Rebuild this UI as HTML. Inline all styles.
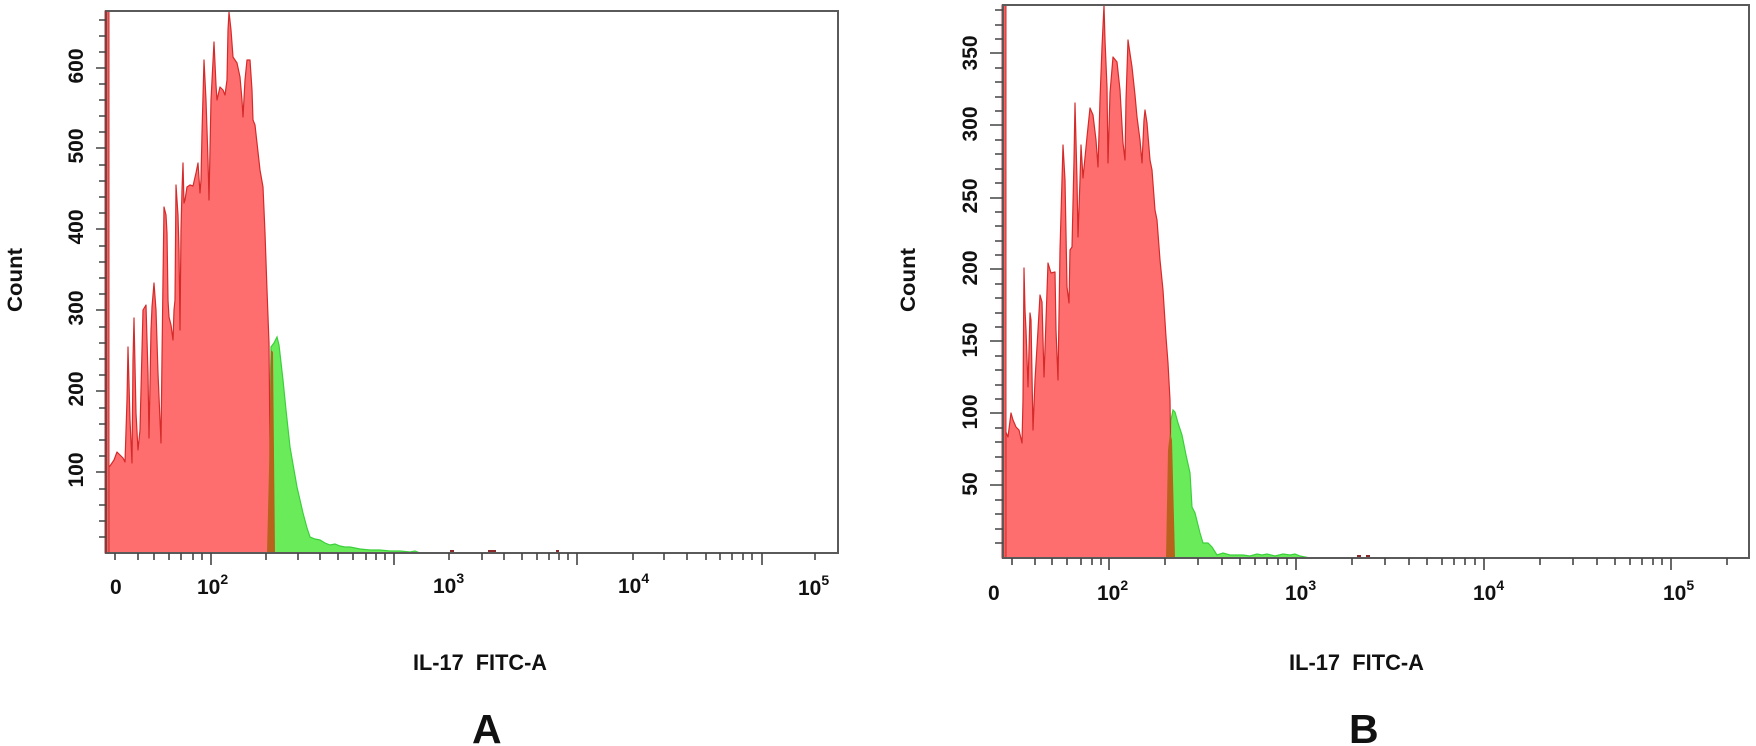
<!DOCTYPE html>
<html><head><meta charset="utf-8"><style>
html,body{margin:0;padding:0;background:#fff;}
svg{display:block;}
text{font-family:"Liberation Sans",Arial,sans-serif;font-weight:bold;fill:#111;}
</style></head><body>
<svg width="1756" height="746" viewBox="0 0 1756 746" xmlns="http://www.w3.org/2000/svg">
<rect width="1756" height="746" fill="#fff"/>

<!-- ============ PANEL A ============ -->
<!-- green -->
<path d="M268,553 L269,450 L271,347 L274,343 L277,337 L279,345 L283,380 L286,410 L290,447 L294,470 L297,487 L300,500 L303,513 L307,528 L310,537 L315,539 L320,540 L325,543 L330,545 L335,544 L340,546 L345,547 L350,547 L355,548 L360,549 L370,550 L380,550 L390,551 L400,551 L410,552 L415,551 L420,553 Z" fill="#6aec5a" stroke="#3ccf3c" stroke-width="1.2"/>
<!-- red -->
<path d="M106,553 L106,470 L110,466 L114,460 L117,452 L120,455 L123,458 L125,462 L127,400 L128,347 L130,420 L132,463 L133,360 L134,318 L136,413 L138,450 L140,430 L142,350 L143,310 L146,305 L147,340 L148,373 L149,438 L151,330 L152,307 L154,283 L156,310 L158,373 L160,420 L161,443 L162,357 L163,280 L164,207 L166,215 L167,233 L168,300 L169,317 L171,325 L173,340 L174,310 L175,300 L176,185 L178,215 L179,250 L180,330 L181,230 L182,190 L183,163 L184,203 L185,200 L187,187 L190,185 L193,186 L196,173 L198,163 L200,193 L201,180 L202,133 L204,60 L206,100 L208,160 L209,200 L210,150 L211,100 L214,42 L216,85 L217,100 L220,87 L223,90 L225,95 L227,80 L228,30 L229,12 L231,30 L233,57 L237,63 L240,77 L242,100 L243,117 L245,80 L247,60 L250,60 L252,90 L253,120 L255,125 L257,143 L260,170 L263,187 L265,233 L267,290 L269,343 L270,450 L271,553 Z" fill="#ff6e6e" stroke="#d42a2a" stroke-width="1.2" stroke-linejoin="round"/>
<!-- overlap -->
<path d="M267,553 L269,470 L271,350 L273,352 L275,553 Z" fill="#b8621e"/>
<!-- tail dots -->
<rect x="450" y="550" width="4" height="2" fill="#8b2a2a"/>
<rect x="488" y="550" width="8" height="2" fill="#8b2a2a"/>
<rect x="556" y="550" width="3" height="2" fill="#8b2a2a"/>
<!-- left red bar -->
<rect x="105" y="11" width="4" height="542" fill="#ff5c5c" stroke="#c03030" stroke-width="1"/>
<!-- frame -->
<path d="M106,11 L838,11 L838,553 L106,553 Z" fill="none" stroke="#5a5a5a" stroke-width="2"/>
<path d="M106,11 L106,553" stroke="#8a3030" stroke-width="1"/>

<!-- A y ticks -->
<g stroke="#444" stroke-width="1.6">
<path d="M99,537H106M99,521H106M99,505H106M99,489H106M99,456H106M99,440H106M99,424H106M99,408H106M99,375H106M99,359H106M99,343H106M99,327H106M99,294H106M99,278H106M99,262H106M99,246H106M99,213H106M99,197H106M99,181H106M99,165H106M99,132H106M99,116H106M99,100H106M99,84H106M99,52H106M99,36H106M99,20H106"/>
<path d="M96,472H106M96,391H106M96,310H106M96,229H106M96,148H106M96,68H106"/>
</g>
<g font-size="21">
<text x="83" y="470" transform="rotate(-90 83 470)" text-anchor="middle">100</text>
<text x="83" y="389" transform="rotate(-90 83 389)" text-anchor="middle">200</text>
<text x="83" y="308" transform="rotate(-90 83 308)" text-anchor="middle">300</text>
<text x="83" y="227" transform="rotate(-90 83 227)" text-anchor="middle">400</text>
<text x="83" y="146" transform="rotate(-90 83 146)" text-anchor="middle">500</text>
<text x="83" y="66" transform="rotate(-90 83 66)" text-anchor="middle">600</text>
<text x="22" y="280" transform="rotate(-90 22 280)" text-anchor="middle" textLength="64" lengthAdjust="spacingAndGlyphs">Count</text>
</g>

<!-- A x ticks -->
<g stroke="#444" stroke-width="1.6">
<path d="M115,553V560M138,553V560M154,553V560M169,553V560M181,553V560M193,553V560M202,553V560M266,553V560M298,553V560M320,553V560M338,553V560M353,553V560M366,553V560M376,553V560M385,553V560M449,553V560M482,553V560M504,553V560M522,553V560M537,553V560M549,553V560M559,553V560M568,553V560M633,553V560M664,553V560M687,553V560M706,553V560M720,553V560M732,553V560M743,553V560M752,553V560M815,553V560"/>
<path d="M211,553V565M394,553V565M577,553V565M762,553V565"/>
</g>
<g font-size="21">
<text x="110" y="594">0</text>
<text x="197" y="594">10<tspan font-size="14" dy="-10">2</tspan></text>
<text x="433" y="593">10<tspan font-size="14" dy="-10">3</tspan></text>
<text x="618" y="593">10<tspan font-size="14" dy="-10">4</tspan></text>
<text x="798" y="595">10<tspan font-size="14" dy="-10">5</tspan></text>
</g>
<text x="413" y="670" font-size="22" textLength="134" lengthAdjust="spacingAndGlyphs" xml:space="preserve">IL-17  FITC-A</text>
<text x="472" y="743" font-size="41">A</text>

<!-- ============ PANEL B ============ -->
<path d="M1168,558 L1169,470 L1171,420 L1173,410 L1175,412 L1178,423 L1182,435 L1186,455 L1190,473 L1192,507 L1195,513 L1198,525 L1200,533 L1203,543 L1208,543 L1212,547 L1217,555 L1223,553 L1230,555 L1243,555 L1250,556 L1257,554 L1262,555 L1267,554 L1275,556 L1283,554 L1290,555 L1295,554 L1300,556 L1310,558 Z" fill="#6aec5a" stroke="#3ccf3c" stroke-width="1.2"/>
<path d="M1003,558 L1003,445 L1005,430 L1008,437 L1011,413 L1013,420 L1016,427 L1019,430 L1022,443 L1023,400 L1024,268 L1025,310 L1026,330 L1028,387 L1030,313 L1031,320 L1033,430 L1035,380 L1038,330 L1040,295 L1042,302 L1044,377 L1046,320 L1048,263 L1051,273 L1055,272 L1056,330 L1058,380 L1060,250 L1062,180 L1063,145 L1065,180 L1067,287 L1069,303 L1070,250 L1072,247 L1074,160 L1075,103 L1077,180 L1078,237 L1080,180 L1081,145 L1083,178 L1087,137 L1090,108 L1093,115 L1096,140 L1098,167 L1100,100 L1102,47 L1104,5 L1105,40 L1107,87 L1108,163 L1110,93 L1113,57 L1117,62 L1120,90 L1123,143 L1125,160 L1126,100 L1128,40 L1132,67 L1135,95 L1137,117 L1140,140 L1142,163 L1144,120 L1145,110 L1147,123 L1150,160 L1152,170 L1155,210 L1157,220 L1160,260 L1163,290 L1166,337 L1168,363 L1170,400 L1171,470 L1172,558 Z" fill="#ff6e6e" stroke="#d42a2a" stroke-width="1.2" stroke-linejoin="round"/>
<path d="M1166,558 L1168,450 L1170,433 L1172,440 L1175,558 Z" fill="#b8621e"/>
<rect x="1357" y="555" width="4" height="2" fill="#8b2a2a"/>
<rect x="1366" y="555" width="4" height="2" fill="#8b2a2a"/>
<rect x="1002" y="5" width="4" height="553" fill="#ff5c5c" stroke="#c03030" stroke-width="1"/>
<path d="M1003,5 L1749,5 L1749,558 L1003,558 Z" fill="none" stroke="#5a5a5a" stroke-width="2"/>

<!-- B y ticks -->
<g stroke="#444" stroke-width="1.6">
<path d="M995,543H1003M995,529H1003M995,514H1003M995,500H1003M995,471H1003M995,457H1003M995,442H1003M995,428H1003M995,399H1003M995,385H1003M995,370H1003M995,356H1003M995,327H1003M995,313H1003M995,298H1003M995,284H1003M995,255H1003M995,241H1003M995,226H1003M995,212H1003M995,183H1003M995,169H1003M995,154H1003M995,140H1003M995,111H1003M995,97H1003M995,82H1003M995,68H1003M995,39H1003M995,25H1003M995,10H1003"/>
<path d="M990,485H1003M990,413H1003M990,341H1003M990,269H1003M990,198H1003M990,125H1003M990,53H1003"/>
</g>
<g font-size="21">
<text x="977" y="484" transform="rotate(-90 977 484)" text-anchor="middle">50</text>
<text x="977" y="412" transform="rotate(-90 977 412)" text-anchor="middle">100</text>
<text x="977" y="340" transform="rotate(-90 977 340)" text-anchor="middle">150</text>
<text x="977" y="268" transform="rotate(-90 977 268)" text-anchor="middle">200</text>
<text x="977" y="196" transform="rotate(-90 977 196)" text-anchor="middle">250</text>
<text x="977" y="124" transform="rotate(-90 977 124)" text-anchor="middle">300</text>
<text x="977" y="53" transform="rotate(-90 977 53)" text-anchor="middle">350</text>
<text x="915" y="280" transform="rotate(-90 915 280)" text-anchor="middle" textLength="64" lengthAdjust="spacingAndGlyphs">Count</text>
</g>

<!-- B x ticks -->
<g stroke="#444" stroke-width="1.6">
<path d="M1012,558V565M1035,558V565M1052,558V565M1067,558V565M1081,558V565M1092,558V565M1101,558V565M1165,558V565M1198,558V565M1222,558V565M1240,558V565M1255,558V565M1267,558V565M1278,558V565M1287,558V565M1352,558V565M1385,558V565M1409,558V565M1427,558V565M1442,558V565M1454,558V565M1465,558V565M1475,558V565M1540,558V565M1573,558V565M1597,558V565M1615,558V565M1630,558V565M1642,558V565M1653,558V565M1662,558V565M1727,558V565"/>
<path d="M1109,558V570M1296,558V570M1484,558V570M1671,558V570"/>
</g>
<g font-size="21">
<text x="988" y="600">0</text>
<text x="1097" y="600">10<tspan font-size="14" dy="-10">2</tspan></text>
<text x="1285" y="600">10<tspan font-size="14" dy="-10">3</tspan></text>
<text x="1473" y="600">10<tspan font-size="14" dy="-10">4</tspan></text>
<text x="1663" y="600">10<tspan font-size="14" dy="-10">5</tspan></text>
</g>
<text x="1289" y="670" font-size="22" textLength="135" lengthAdjust="spacingAndGlyphs" xml:space="preserve">IL-17  FITC-A</text>
<text x="1349" y="743" font-size="41">B</text>
</svg>
</body></html>
